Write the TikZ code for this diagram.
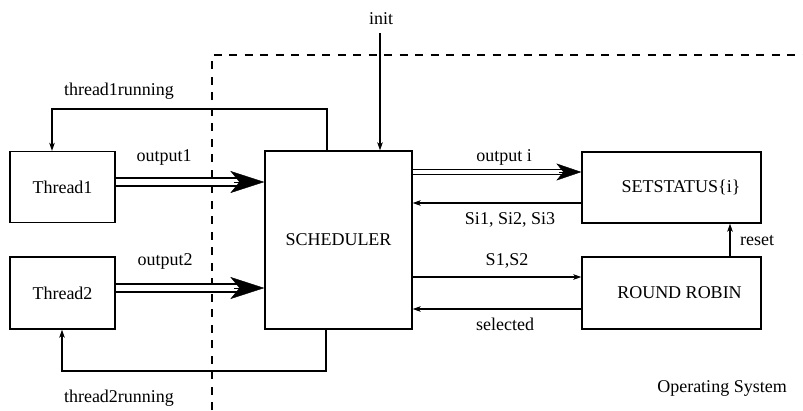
\documentclass[tikz,border=0pt]{standalone}
\usepackage{fontspec}
\setmainfont{Liberation Serif}
\usetikzlibrary{arrows.meta}
\tikzset{
  box/.style={draw, line width=1.3pt, inner sep=0pt, font=\fontsize{18}{22}\selectfont},
  lbl/.style={inner sep=0pt, anchor=base, font=\fontsize{18}{22}\selectfont},
  conn/.style={line width=1.3pt, -{Stealth[length=8pt,width=5.5pt,inset=2pt]}},
  plain/.style={line width=1.3pt},
  osline/.style={line width=1.3pt, dash pattern=on 8pt off 7.5pt},
  thickdouble/.style={line width=1.6pt, double distance=6.4pt, shorten >=22pt},
  thindouble/.style={line width=0.8pt, double distance=4pt, shorten >=14pt},
  bighead/.style={line width=0.4pt, -{Stealth[length=34pt,width=22pt,inset=9pt]}},
  midhead/.style={line width=0.4pt, -{Stealth[length=25pt,width=17pt,inset=7pt]}},
}
\begin{document}
\begin{tikzpicture}[x=1pt,y=-1pt]
\useasboundingbox (0,0) rectangle (803,410);

% boxes
\node[box, minimum width=105pt, minimum height=71pt] (t1) at (62.5,187) {Thread1};
\node[box, minimum width=105pt, minimum height=72pt] (t2) at (62.5,293) {Thread2};
\node[box, minimum width=147pt, minimum height=178pt] (sch) at (338.5,240) {SCHEDULER};
\node[box, minimum width=179pt, minimum height=71pt] (ss) at (671.5,187.5) {\hspace*{19pt}SETSTATUS\{i\}};
\node[box, minimum width=179pt, minimum height=72pt] (rr) at (671.5,293) {\hspace*{16pt}ROUND ROBIN};

% operating system boundary
\coordinate (osb) at (212,410);
\coordinate (osc) at (212,55);
\coordinate (osr) at (803,55);
\draw[osline] (osb) -- (osc) -- (osr);

% init
\coordinate (initsrc) at (380,33);
\draw[conn] (initsrc) -- (sch.north -| initsrc);
\node[lbl] (initl) at (381,24) {init};

% thread running feedback
\coordinate (r1a) at (327,109);
\coordinate (r1b) at (52,109);
\draw[conn] (sch.north -| r1a) -- (r1a) -- (r1b) -- (t1.north -| r1b);
\node[lbl] (r1l) at (119,95) {thread1running};

\coordinate (r2a) at (326,371);
\coordinate (r2b) at (62,371);
\draw[conn] (sch.south -| r2a) -- (r2a) -- (r2b) -- (t2.south -| r2b);
\node[lbl] (r2l) at (119,402) {thread2running};

% outputs of threads
\draw[thickdouble] ([yshift=5pt]t1.east) -- ([yshift=5pt]t1.east -| sch.west);
\draw[bighead] ([yshift=5pt,xshift=-30pt]t1.east -| sch.west) -- ([yshift=5pt]t1.east -| sch.west);
\node[lbl] (o1l) at (164,161) {output1};

\draw[thickdouble] ([yshift=5pt]t2.east) -- ([yshift=5pt]t2.east -| sch.west);
\draw[bighead] ([yshift=5pt,xshift=-30pt]t2.east -| sch.west) -- ([yshift=5pt]t2.east -| sch.west);
\node[lbl] (o2l) at (165,265) {output2};

% scheduler <-> setstatus
\draw[thindouble] ([yshift=15.5pt]ss.west -| sch.east) -- ([yshift=15.5pt]ss.west);
\draw[midhead] ([yshift=15.5pt,xshift=-22pt]ss.west) -- ([yshift=15.5pt]ss.west);
\node[lbl] (oil) at (504,161) {output i};

\draw[conn] ([yshift=-15.5pt]ss.west) -- ([yshift=-15.5pt]ss.west -| sch.east);
\node[lbl] (sil) at (510,224) {Si1, Si2, Si3};

% scheduler <-> round robin
\draw[conn] ([yshift=16pt]rr.west -| sch.east) -- ([yshift=16pt]rr.west);
\node[lbl] (s12l) at (507,265) {S1,S2};

\draw[conn] ([yshift=-16pt]rr.west) -- ([yshift=-16pt]rr.west -| sch.east);
\node[lbl] (sell) at (505,330) {selected};

% reset
\coordinate (rsx) at (730,0);
\draw[conn] (rr.north -| rsx) -- (ss.south -| rsx);
\node[lbl, anchor=base west] (rsl) at (740,245) {reset};

\node[lbl] (osl) at (722,392) {Operating System};
\end{tikzpicture}
\end{document}
